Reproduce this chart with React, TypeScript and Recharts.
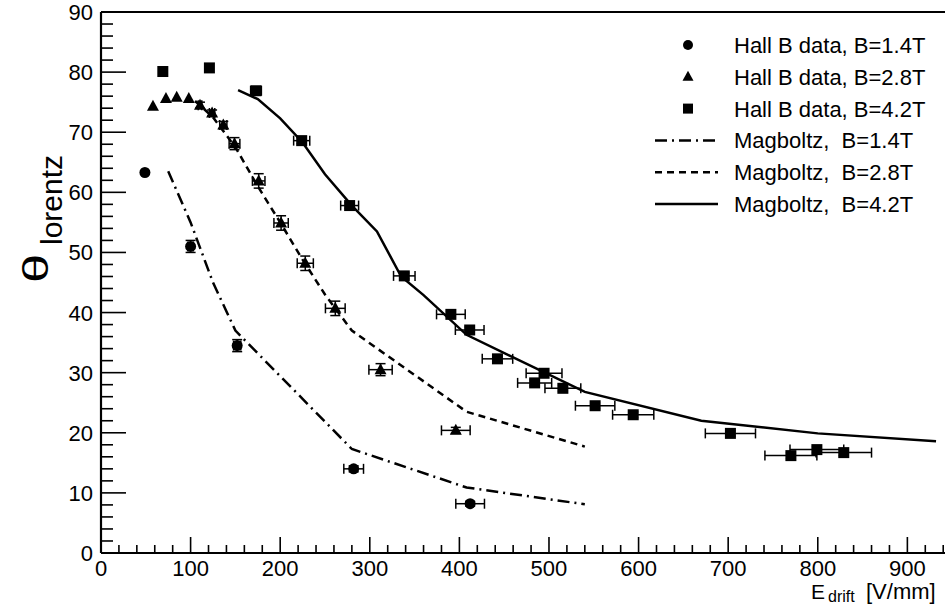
import React from 'react';
import {
  ComposedChart,
  Line,
  Scatter,
  XAxis,
  YAxis,
  ErrorBar,
  ReferenceLine,
  Legend,
  Label,
} from 'recharts';

// Hall B measurements (x = E drift [V/mm], y = Lorentz angle [deg])
const hallB14 = [
  { x: 49, y: 63.3, ex: 0, ey: 0 },
  { x: 100, y: 51.0, ex: 3, ey: 1 },
  { x: 152, y: 34.5, ex: 4, ey: 1 },
  { x: 282, y: 14.0, ex: 11, ey: 0.5 },
  { x: 412, y: 8.2, ex: 16, ey: 0.4 },
];

const hallB28 = [
  { x: 58, y: 74.3, ex: 0, ey: 0 },
  { x: 72.5, y: 75.6, ex: 0, ey: 0 },
  { x: 84.5, y: 75.8, ex: 0, ey: 0 },
  { x: 98, y: 75.6, ex: 0, ey: 0 },
  { x: 110.5, y: 74.5, ex: 2, ey: 0.5 },
  { x: 124, y: 73.2, ex: 3, ey: 0.5 },
  { x: 136.5, y: 71.2, ex: 4, ey: 0.6 },
  { x: 149, y: 68.1, ex: 6, ey: 1 },
  { x: 176, y: 61.9, ex: 7, ey: 1.2 },
  { x: 201, y: 54.9, ex: 8, ey: 1.2 },
  { x: 228, y: 48.2, ex: 9, ey: 1.2 },
  { x: 261.5, y: 40.7, ex: 11, ey: 1.2 },
  { x: 312, y: 30.5, ex: 13, ey: 1 },
  { x: 396, y: 20.4, ex: 16, ey: 0.5 },
];

const hallB42 = [
  { x: 69, y: 80.1, ex: 0, ey: 0 },
  { x: 121, y: 80.7, ex: 0, ey: 0 },
  { x: 173, y: 76.9, ex: 6, ey: 0.5 },
  { x: 224, y: 68.6, ex: 9, ey: 0.5 },
  { x: 277.5, y: 57.8, ex: 10, ey: 0.5 },
  { x: 338.5, y: 46.1, ex: 12, ey: 0.5 },
  { x: 390.5, y: 39.7, ex: 16, ey: 0.5 },
  { x: 411.5, y: 37.1, ex: 16, ey: 0.5 },
  { x: 442.5, y: 32.3, ex: 17, ey: 0.5 },
  { x: 484, y: 28.3, ex: 19, ey: 0.5 },
  { x: 494.5, y: 29.9, ex: 20, ey: 0.5 },
  { x: 515.5, y: 27.4, ex: 20, ey: 0.5 },
  { x: 551.5, y: 24.5, ex: 22, ey: 0.5 },
  { x: 594, y: 23.0, ex: 23, ey: 0.5 },
  { x: 702.5, y: 19.9, ex: 28, ey: 0.5 },
  { x: 770, y: 16.2, ex: 29, ey: 0.5 },
  { x: 799, y: 17.2, ex: 30, ey: 0.5 },
  { x: 829, y: 16.7, ex: 31, ey: 0.5 },
];

// Magboltz simulation curves
const mag14 = [
  { x: 75, y: 63.5 },
  { x: 100, y: 55 },
  { x: 125, y: 45 },
  { x: 150, y: 37 },
  { x: 280, y: 17.3 },
  { x: 408, y: 10.9 },
  { x: 540, y: 8.1 },
];

const mag28 = [
  { x: 105, y: 75.2 },
  { x: 125, y: 72.5 },
  { x: 150, y: 67.5 },
  { x: 175, y: 61 },
  { x: 200, y: 55 },
  { x: 225, y: 48.8 },
  { x: 250, y: 43 },
  { x: 280, y: 37 },
  { x: 408, y: 23.5 },
  { x: 540, y: 17.7 },
];

const mag42 = [
  { x: 153, y: 77 },
  { x: 175, y: 75.5 },
  { x: 200, y: 72.3 },
  { x: 225, y: 68.3 },
  { x: 250, y: 63 },
  { x: 280, y: 57.8 },
  { x: 308, y: 53.5 },
  { x: 335, y: 46 },
  { x: 360, y: 42.9 },
  { x: 408, y: 36.3 },
  { x: 540, y: 26.8 },
  { x: 670, y: 22 },
  { x: 800, y: 19.9 },
  { x: 932, y: 18.6 },
];

const legendLabels = [
  'Hall B data, B=1.4T',
  'Hall B data, B=2.8T',
  'Hall B data, B=4.2T',
  'Magboltz,  B=1.4T',
  'Magboltz,  B=2.8T',
  'Magboltz,  B=4.2T',
];

const X_MAX = 942;
const xTicks: number[] = [];
for (let v = 0; v <= 940; v += 20) xTicks.push(v);
const yTicks: number[] = [];
for (let v = 0; v <= 90; v += 2) yTicks.push(v);

const FONT = '"Liberation Sans", Arial, sans-serif';
const PLOT_LEFT = 101;
const PLOT_TOP = 12;
const PLOT_BOTTOM = 553;

const DASH_DOT = '12 5 2 5';
const DASHED = '7 5';

const XTick = (props: any) => {
  const { x, payload } = props;
  const major = payload.value % 100 === 0;
  return (
    <g>
      <line x1={x} x2={x} y1={PLOT_BOTTOM} y2={PLOT_BOTTOM - (major ? 16 : 8)} stroke="#000" strokeWidth={1.6} />
      {major && (
        <text x={x} y={PLOT_BOTTOM + 23} textAnchor="middle" fontFamily={FONT} fontSize={22} fill="#000">
          {payload.value}
        </text>
      )}
    </g>
  );
};

const YTick = (props: any) => {
  const { y, payload } = props;
  const major = payload.value % 10 === 0;
  return (
    <g>
      <line x1={PLOT_LEFT} x2={PLOT_LEFT + (major ? 25 : 12)} y1={y} y2={y} stroke="#000" strokeWidth={1.6} />
      {major && (
        <text x={PLOT_LEFT - 8} y={y + 8} textAnchor="end" fontFamily={FONT} fontSize={22} fill="#000">
          {payload.value}
        </text>
      )}
    </g>
  );
};

const circleShape = (p: any) => <circle cx={p.cx} cy={p.cy} r={5.5} fill="#000" />;
const triangleShape = (p: any) => (
  <polygon points={`${p.cx},${p.cy - 6.5} ${p.cx - 6},${p.cy + 4.5} ${p.cx + 6},${p.cy + 4.5}`} fill="#000" />
);
const squareShape = (p: any) => <rect x={p.cx - 5.5} y={p.cy - 5.5} width={11} height={11} fill="#000" />;

const YLabel = () => (
  <g transform="translate(48, 283) rotate(-90)" fontFamily={FONT} fill="#000">
    <text transform="scale(1.5, 1)" fontSize={35}>θ</text>
    <text x={38} y={14} fontSize={30}>lorentz</text>
  </g>
);

const XLabel = () => (
  <text fontFamily={FONT} fill="#000" y={599}>
    <tspan x={811} fontSize={21}>E</tspan>
    <tspan x={828} dy={3} fontSize={16}>drift</tspan>
    <tspan x={866} dy={-3} fontSize={22}>[V/mm]</tspan>
  </text>
);

const LegendBox = () => {
  const rowY = (i: number) => 20 + i * 31.8;
  const mx = 48;
  return (
    <svg width={305} height={200} style={{ overflow: 'visible' }}>
      <circle cx={mx} cy={rowY(0)} r={5} fill="#000" />
      <polygon points={`${mx},${rowY(1) - 6} ${mx - 5.5},${rowY(1) + 4} ${mx + 5.5},${rowY(1) + 4}`} fill="#000" />
      <rect x={mx - 5} y={rowY(2) - 5} width={10} height={10} fill="#000" />
      <line x1={15} x2={78} y1={rowY(3)} y2={rowY(3)} stroke="#000" strokeWidth={2.5} strokeDasharray={DASH_DOT} />
      <line x1={15} x2={78} y1={rowY(4)} y2={rowY(4)} stroke="#000" strokeWidth={2.5} strokeDasharray={DASHED} />
      <line x1={15} x2={78} y1={rowY(5)} y2={rowY(5)} stroke="#000" strokeWidth={2.5} />
      {legendLabels.map((t, i) => (
        <text key={t} x={94} y={rowY(i) + 8} fontFamily={FONT} fontSize={22} fill="#000" style={{ whiteSpace: 'pre' }}>
          {t}
        </text>
      ))}
    </svg>
  );
};

export default function App() {
  return (
    <div style={{ position: 'absolute', left: 0, top: 0, width: 945, height: 609, background: '#fff' }}>
      <ComposedChart width={945} height={609} margin={{ top: PLOT_TOP, right: 0, bottom: 0, left: 0 }}>
        <XAxis
          type="number"
          dataKey="x"
          domain={[0, X_MAX]}
          ticks={xTicks}
          interval={0}
          height={56}
          tick={<XTick />}
          tickLine={false}
          axisLine={{ stroke: '#000', strokeWidth: 2.2 }}
          allowDataOverflow
        >
          <Label content={<XLabel />} />
        </XAxis>
        <YAxis
          type="number"
          dataKey="y"
          domain={[0, 90]}
          ticks={yTicks}
          interval={0}
          width={PLOT_LEFT}
          tick={<YTick />}
          tickLine={false}
          axisLine={{ stroke: '#000', strokeWidth: 2.2 }}
          allowDataOverflow
        >
          <Label content={<YLabel />} />
        </YAxis>
        <ReferenceLine y={90} stroke="#000" strokeWidth={2} />
        <Line data={mag14} dataKey="y" type="linear" dot={false} stroke="#000" strokeWidth={2.5} strokeDasharray={DASH_DOT} isAnimationActive={false} />
        <Line data={mag28} dataKey="y" type="linear" dot={false} stroke="#000" strokeWidth={2.5} strokeDasharray={DASHED} isAnimationActive={false} />
        <Line data={mag42} dataKey="y" type="linear" dot={false} stroke="#000" strokeWidth={2.5} isAnimationActive={false} />
        <Scatter data={hallB14} shape={circleShape} isAnimationActive={false}>
          <ErrorBar dataKey="ex" direction="x" width={5} stroke="#000" strokeWidth={1.5} />
          <ErrorBar dataKey="ey" direction="y" width={5} stroke="#000" strokeWidth={1.5} />
        </Scatter>
        <Scatter data={hallB28} shape={triangleShape} isAnimationActive={false}>
          <ErrorBar dataKey="ex" direction="x" width={5} stroke="#000" strokeWidth={1.5} />
          <ErrorBar dataKey="ey" direction="y" width={5} stroke="#000" strokeWidth={1.5} />
        </Scatter>
        <Scatter data={hallB42} shape={squareShape} isAnimationActive={false}>
          <ErrorBar dataKey="ex" direction="x" width={5} stroke="#000" strokeWidth={1.5} />
          <ErrorBar dataKey="ey" direction="y" width={5} stroke="#000" strokeWidth={1.5} />
        </Scatter>
        <Legend
          layout="vertical"
          align="center"
          verticalAlign="middle"
          content={<LegendBox />}
          wrapperStyle={{ left: 640, top: 25, width: 305, height: 200 }}
        />
      </ComposedChart>
    </div>
  );
}
